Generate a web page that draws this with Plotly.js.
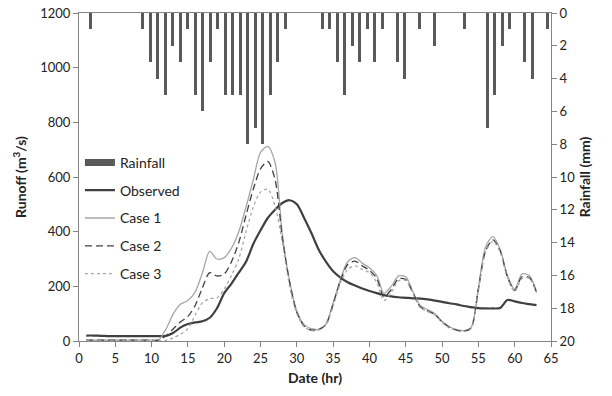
<!DOCTYPE html>
<html>
<head>
<meta charset="utf-8">
<script src="https://cdn.plot.ly/plotly-3.0.1.min.js"></script>
<style>html,body{margin:0;padding:0;background:#fff;}#chart{width:612px;height:396px;}</style>
</head>
<body>
<div id="chart"></div>
<script>
// Hours of the runoff series
const hours = [1,2,3,4,5,6,7,8,9,10,11,12,13,14,15,16,17,18,19,20,21,22,23,24,25,26,27,28,29,30,31,32,33,34,35,36,37,38,39,40,41,42,43,44,45,46,47,48,49,50,51,52,53,54,55,56,57,58,59,60,61,62,63];

const observed = [20,20,19,18,18,18,18,18,18,18,18,19,30,50,62,68,72,85,120,175,210,250,290,355,405,450,480,505,515,500,450,395,335,290,255,232,215,203,192,183,175,168,163,160,158,156,155,152,148,143,138,134,128,124,120,119,119,121,150,145,139,135,131];

const case1 = [3,3,3,3,3,3,3,3,3,3,5,45,100,135,148,180,250,328,300,305,340,400,490,590,690,712,653,390,220,110,60,45,43,62,140,225,290,305,285,268,240,175,200,238,235,180,130,115,100,72,52,42,38,50,195,345,382,336,240,190,245,240,183];

const case2 = [3,3,3,3,3,3,3,3,3,3,3,20,45,70,90,130,195,250,238,245,290,360,460,555,630,657,590,380,215,105,55,40,42,60,135,220,280,292,275,258,230,162,188,228,225,175,125,110,97,70,50,40,36,48,190,330,370,330,235,185,235,232,178];

const case3 = [2,2,2,2,2,2,2,2,2,2,2,2,12,25,45,95,140,155,158,190,240,300,400,490,545,555,495,360,200,100,52,38,40,58,128,212,262,275,262,250,215,148,178,220,222,172,122,108,95,68,48,38,34,46,185,325,365,325,232,182,228,230,176];

// Rainfall per hourly category (63 categories, index 0..62)
const rainIndex = [];
for (let i = 0; i < 63; i++) rainIndex.push(i);
const rainfall = [0,1,0,0,0,0,0,0,1,3,4,5,2,3,1,5,6,3,1,5,5,5,8,7,8,5,3,1,0,0,0,0,1,1,3,5,2,3,1,3,1,0,3,4,0,1,0,2,0,0,0,1,0,0,7,5,2,1,0,3,4,0,1];

const xTicks = [0,5,10,15,20,25,30,35,40,45,50,55,60,65];
const yTicks = [0,200,400,600,800,1000,1200];
const y2Ticks = [0,2,4,6,8,10,12,14,16,18,20];

const FONT = 'Lato, "Open Sans", sans-serif';
const AX = '#868686';

const traces = [
  {type:'bar', name:'Rainfall', x:rainIndex, y:rainfall, xaxis:'x2', yaxis:'y2',
   marker:{color:'#595959'}, width:0.4, showlegend:false},
  // legend-only key for the rainfall bars (wide rectangle like the reference)
  {type:'scatter', mode:'lines', name:'Rainfall', x:[null], y:[null], xaxis:'x2', yaxis:'y2',
   line:{color:'#595959', width:7}, legendgroup:'a', showlegend:true},
  {type:'scatter', mode:'lines', name:'Observed', x:hours, y:observed,
   line:{color:'#404040', width:2.2, shape:'spline', smoothing:0.8}, legendgroup:'b'},
  {type:'scatter', mode:'lines', name:'Case 1', x:hours, y:case1,
   line:{color:'#a6a6a6', width:1.3, shape:'spline', smoothing:0.8}, legendgroup:'c'},
  {type:'scatter', mode:'lines', name:'Case 2', x:hours, y:case2,
   line:{color:'#404040', width:1.3, dash:'7px,4px', shape:'spline', smoothing:0.8}, legendgroup:'d'},
  {type:'scatter', mode:'lines', name:'Case 3', x:hours, y:case3,
   line:{color:'#a6a6a6', width:1.3, dash:'3px,3px', shape:'spline', smoothing:0.8}, legendgroup:'e'}
];

const layout = {
  width:612, height:396,
  margin:{l:79, r:61, t:13, b:55, pad:0},
  paper_bgcolor:'#fff', plot_bgcolor:'#fff',
  font:{family:FONT, size:13, color:'#222'},
  showlegend:true,
  legend:{x:0.002, y:0.592, xanchor:'left', yanchor:'top', bgcolor:'rgba(0,0,0,0)',
          font:{family:FONT, size:14, color:'#222'}, traceorder:'grouped', tracegroupgap:6.6,
          itemwidth:30},
  bargap:0,
  xaxis:{range:[0,65], tickvals:xTicks, ticktext:xTicks.map(String), ticks:'outside', ticklen:5,
         tickcolor:AX, showline:true, linecolor:AX, linewidth:1, showgrid:false, zeroline:false,
         tickfont:{family:FONT, size:13, color:'#222'},
         title:{text:'<b>Date (hr)</b>', font:{family:FONT, size:14, color:'#222'}, standoff:8}},
  xaxis2:{range:[-0.5,62.5], overlaying:'x', anchor:'y2', side:'top', showline:true, linecolor:AX,
          linewidth:1, showticklabels:false, ticks:'', showgrid:false, zeroline:false},
  yaxis:{range:[0,1200], tickvals:yTicks, ticks:'outside', ticklen:5, tickcolor:AX,
         showline:true, linecolor:AX, linewidth:1, showgrid:false, zeroline:false,
         tickfont:{family:FONT, size:13, color:'#222'},
         title:{text:'<b>Runoff (m<sup>3</sup>/s)</b>', font:{family:FONT, size:14, color:'#222'}, standoff:10}},
  yaxis2:{range:[20,0], overlaying:'y', side:'right', anchor:'x', tickvals:y2Ticks, ticks:'outside',
          ticklen:5, tickcolor:AX, showline:true, linecolor:AX, linewidth:1, showgrid:false,
          zeroline:false, tickfont:{family:FONT, size:13, color:'#222'},
          title:{text:'<b>Rainfall (mm)</b>', font:{family:FONT, size:14, color:'#222'}, standoff:6}}
};

Plotly.newPlot('chart', traces, layout, {displayModeBar:false, staticPlot:true});
</script>
</body>
</html>
